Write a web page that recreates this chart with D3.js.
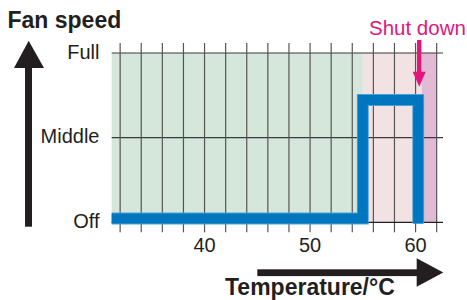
<!DOCTYPE html>
<html><head><meta charset="utf-8">
<script src="https://cdn.jsdelivr.net/npm/d3@7"></script>
<style>body{margin:0;background:#fff}svg{display:block}text{font-family:"Liberation Sans",Arial,sans-serif}</style>
</head><body>
<svg id="c" width="467" height="300"></svg>
<script>
// data
const levels = ["Off", "Middle", "Full"];
const levelValues = [0, 1, 2];
const gridTemps = [32, 34, 36, 38, 40, 42, 44, 46, 48, 50, 52, 54, 56, 58, 60, 62];
const tickLabels = [40, 50, 60];
const zones = [
  {from: 31.2, to: 55, color: "#d5e6db"},
  {from: 55, to: 60.58, color: "#f3e2e3"},
  {from: 60.58, to: 62, color: "#e1bbd3"}
];
const fanTemps = [31.2, 55, 55, 60.25, 60.25];
const fanLevels = [0.045, 0.045, 1.445, 1.445, -0.015];
const shutdownTemp = 60.3;

const svg = d3.select("#c");
const x = d3.scaleLinear().domain([31.2, 62.6]).range([111.7, 443]);
const y = d3.scaleLinear().domain([0, 2]).range([222.3, 53]);
const ink = "#231f20";

// zones
svg.append("g").selectAll("rect").data(zones).join("rect")
  .attr("x", d => x(d.from)).attr("width", d => x(d.to) - x(d.from))
  .attr("y", y(2)).attr("height", y(0) - y(2))
  .attr("fill", d => d.color);

// horizontal lines
svg.append("g").selectAll("line").data([1, 2]).join("line")
  .attr("x1", x.range()[0]).attr("x2", x.range()[1])
  .attr("y1", d => y(d)).attr("y2", d => y(d))
  .attr("stroke", "#3a3a3a").attr("stroke-width", 1.1);

// vertical grid
svg.append("g").selectAll("line").data(gridTemps).join("line")
  .attr("x1", d => x(d)).attr("x2", d => x(d))
  .attr("y1", y(2) - 10).attr("y2", y(0) + 10)
  .attr("stroke", "#555").attr("stroke-width", 1.2);

// axis line
svg.append("line").attr("x1", x.range()[0]).attr("x2", x.range()[1])
  .attr("y1", y(0)).attr("y2", y(0)).attr("stroke", ink).attr("stroke-width", 1.3);

// fan line (light rim + core)
const pts = fanTemps.map((t, i) => [x(t), y(fanLevels[i])]);
const lineGen = d3.line();
svg.append("path").attr("d", lineGen(pts))
  .attr("fill", "none").attr("stroke", "#4a9fd8").attr("stroke-width", 11.8)
  .attr("stroke-linejoin", "miter").attr("stroke-linecap", "butt");
svg.append("path").attr("d", lineGen(pts))
  .attr("fill", "none").attr("stroke", "#0076bf").attr("stroke-width", 10)
  .attr("stroke-linejoin", "miter").attr("stroke-linecap", "butt");

// y labels
svg.append("g").selectAll("text").data(levelValues).join("text")
  .attr("x", 99.5).attr("y", d => y(d) - 1.5).attr("dy", "0.35em")
  .attr("text-anchor", "end").attr("font-size", 20).attr("fill", ink)
  .text((d, i) => levels[i]);
// x labels
svg.append("g").selectAll("text").data(tickLabels).join("text")
  .attr("x", d => x(d)).attr("y", 252).attr("text-anchor", "middle")
  .attr("font-size", 20).attr("fill", ink).text(d => d);

// titles
svg.append("text").attr("x", 7.5).attr("y", 27.5).attr("font-size", 23).attr("font-weight", "bold")
  .attr("fill", ink).text("Fan speed");
svg.append("text").attr("x", 225).attr("y", 295).attr("font-size", 23).attr("font-weight", "bold")
  .attr("fill", ink).text("Temperature/°C");

// up arrow
svg.append("rect").attr("x", 25).attr("y", 66).attr("width", 7).attr("height", 160.7).attr("fill", ink);
svg.append("path").attr("d", "M28.7,40.7 L44,68 L14,68 Z").attr("fill", ink);
// right arrow
svg.append("rect").attr("x", 257.3).attr("y", 269.3).attr("width", 162).attr("height", 6.8).attr("fill", ink);
svg.append("path").attr("d", "M443.3,272.6 L416.7,258.3 L416.7,286.8 Z").attr("fill", ink);

// shut down
const mag = "#e2157d";
svg.append("text").attr("x", 369).attr("y", 35).attr("font-size", 20.5).attr("fill", mag).text("Shut down");
const sx = x(shutdownTemp) + 0.5;
svg.append("rect").attr("x", sx - 2.2).attr("y", 40).attr("width", 4.4).attr("height", 33).attr("fill", mag);
svg.append("path").attr("d", `M${sx - 6.5},71.7 L${sx + 6.5},71.7 L${sx},86.7 Z`).attr("fill", mag);
</script>
</body></html>
